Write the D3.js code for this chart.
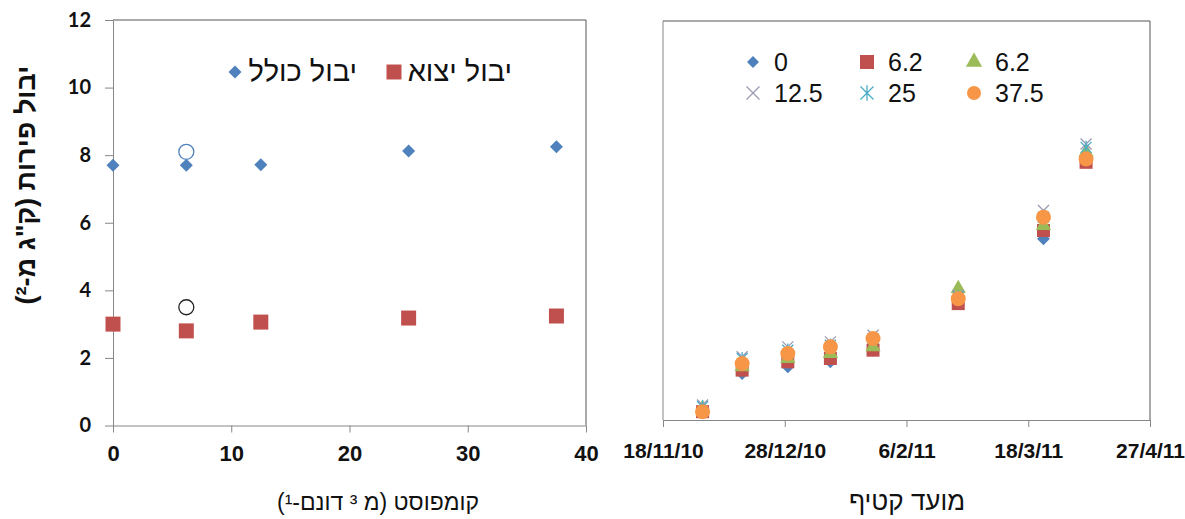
<!DOCTYPE html>
<html>
<head>
<meta charset="utf-8">
<script src="https://cdn.jsdelivr.net/npm/d3@7"></script>
<style>
  html, body { margin: 0; padding: 0; background: #fff; }
  svg { display: block; }
</style>
</head>
<body>
<svg id="chart" width="1185" height="519"></svg>
<script>
// ---------- data: left chart (yield vs compost) ----------
const compostLevels = [0, 6.2, 12.5, 25, 37.5];
const totalYield = [7.7, 7.7, 7.72, 8.12, 8.25];
const exportYield = [3.0, 2.8, 3.06, 3.18, 3.24];
const openCompost = [6.2, 6.2];
const openYield = [8.1, 3.5];
const leftXTicks = [0, 10, 20, 30, 40];
const leftYTicks = [0, 2, 4, 6, 8, 10, 12];
const leftLegend = ["יבול כולל", "יבול יצוא"];

// ---------- data: right chart (yield vs harvest date) ----------
const harvestDates = ["2010-12-01", "2010-12-14", "2010-12-29", "2011-01-12",
                      "2011-01-26", "2011-02-23", "2011-03-23", "2011-04-06"];
const seriesNames = ["0", "6.2", "6.2", "12.5", "25", "37.5"];
const s0    = [0.25, 1.40, 1.60, 1.75, 2.10, 3.50, 5.45, 7.80];
const s62a  = [0.25, 1.50, 1.75, 1.85, 2.10, 3.50, 5.70, 7.75];
const s62b  = [0.35, 1.60, 1.85, 2.00, 2.20, 3.95, 5.85, 8.05];
const s125  = [0.45, 1.90, 2.20, 2.35, 2.55, 3.75, 6.30, 8.30];
const s25   = [0.40, 1.85, 2.10, 2.25, 2.45, 3.70, 6.10, 8.20];
const s375  = [0.25, 1.70, 2.00, 2.20, 2.45, 3.65, 6.10, 7.85];
const dateTicks = ["2010-11-18", "2010-12-28", "2011-02-06", "2011-03-18", "2011-04-27"];

// ---------- titles ----------
const yTitle = "יבול פירות (ק\"ג מ-²)";
const leftXTitle = "קומפוסט (מ ³ דונם-¹)";
const rightXTitle = "מועד קטיף";

// ---------- style ----------
const BLUE = "#4F81BD", RED = "#C0504D", GREEN = "#9BBB59", XCOL = "#9A9AB4",
      TEAL = "#4BACC6", ORANGE = "#F79646";
const AXIS = "#878787", BORDER = "#555";
const HEB = "'Liberation Sans', 'DejaVu Sans', Arial, sans-serif";
const TICKF = "'Liberation Sans', Arial, sans-serif";

const svg = d3.select("#chart");

// ---------- marker helper ----------
function drawMarker(g, type, x, y, color, sz) {
  if (type === "diamond") {
    g.append("path").attr("d", d3.symbol().type(d3.symbolSquare).size(sz * sz / 2)())
      .attr("transform", `translate(${x},${y}) rotate(45)`).attr("fill", color);
  } else if (type === "square") {
    g.append("path").attr("d", d3.symbol().type(d3.symbolSquare).size(sz * sz)())
      .attr("transform", `translate(${x},${y})`).attr("fill", color);
  } else if (type === "triangle") {
    g.append("path").attr("d", d3.symbol().type(d3.symbolTriangle).size(sz * sz * 0.45)())
      .attr("transform", `translate(${x},${y})`).attr("fill", color);
  } else if (type === "circle") {
    g.append("circle").attr("cx", x).attr("cy", y).attr("r", sz / 2).attr("fill", color);
  } else if (type === "x" || type === "star") {
    const h = sz / 2;
    const p = d3.path();
    p.moveTo(x - h, y - h); p.lineTo(x + h, y + h);
    p.moveTo(x - h, y + h); p.lineTo(x + h, y - h);
    if (type === "star") { p.moveTo(x, y - h * 1.2); p.lineTo(x, y + h * 1.2); }
    g.append("path").attr("d", p.toString()).attr("stroke", color)
      .attr("stroke-width", 1.3).attr("fill", "none");
  }
}

// ================= LEFT CHART =================
const L = { left: 113, right: 586, top: 20, bottom: 425.5 };
const xL = d3.scaleLinear().domain([0, 40]).range([L.left, L.right]);
const yL = d3.scaleLinear().domain([0, 12]).range([L.bottom, L.top]);

const gL = svg.append("g");
gL.append("path").attr("d", `M${L.left},${L.top}H${L.right}V${L.bottom}`)
  .attr("fill", "none").attr("stroke", BORDER).attr("stroke-width", 1);

const axLB = gL.append("g").attr("transform", `translate(0,${L.bottom})`)
  .call(d3.axisBottom(xL).tickValues(leftXTicks).tickSize(7).tickSizeOuter(0).tickPadding(13));
axLB.select(".domain").attr("stroke", AXIS);
axLB.selectAll(".tick line").attr("stroke", AXIS);
axLB.selectAll(".tick text").attr("font-family", TICKF).attr("font-weight", "bold")
  .attr("font-size", 22).attr("fill", "#111");

const axLL = gL.append("g").attr("transform", `translate(${L.left},0)`)
  .call(d3.axisLeft(yL).tickValues(leftYTicks).tickSize(8).tickSizeOuter(0).tickPadding(14));
axLL.select(".domain").attr("stroke", AXIS);
axLL.selectAll(".tick line").attr("stroke", AXIS);
axLL.selectAll(".tick text").attr("font-family", "Lato, 'Open Sans', sans-serif")
  .attr("font-weight", "bold").attr("font-size", 20).attr("fill", "#111");

// points
compostLevels.forEach((c, i) => drawMarker(gL, "diamond", xL(c), yL(totalYield[i]), BLUE, 13));
compostLevels.forEach((c, i) => drawMarker(gL, "square", xL(c), yL(exportYield[i]), RED, 15));
gL.append("circle").attr("cx", xL(openCompost[0])).attr("cy", yL(openYield[0])).attr("r", 7.5)
  .attr("fill", "none").attr("stroke", BLUE).attr("stroke-width", 1.3);
gL.append("circle").attr("cx", xL(openCompost[1])).attr("cy", yL(openYield[1])).attr("r", 7.5)
  .attr("fill", "none").attr("stroke", "#222").attr("stroke-width", 1.3);

// legend
drawMarker(gL, "diamond", 235, 72, BLUE, 13);
gL.append("text").attr("x", 357).attr("y", 81).attr("text-anchor", "end")
  .attr("font-family", HEB).attr("font-size", 29).attr("fill", "#111")
  .text(leftLegend[0]);
drawMarker(gL, "square", 394, 72, RED, 15);
gL.append("text").attr("x", 512).attr("y", 81).attr("text-anchor", "end")
  .attr("font-family", HEB).attr("font-size", 29).attr("fill", "#111")
  .text(leftLegend[1]);

// y title
gL.append("text").attr("transform", "translate(35,185) rotate(-90)")
  .attr("text-anchor", "middle").attr("direction", "rtl")
  .attr("font-family", HEB).attr("font-weight", "bold").attr("font-size", 27).attr("fill", "#111")
  .text(yTitle);
// x title
gL.append("text").attr("x", 378).attr("y", 510).attr("text-anchor", "middle")
  .attr("direction", "rtl").attr("font-family", HEB).attr("font-size", 23).attr("fill", "#111")
  .text(leftXTitle);

// ================= RIGHT CHART =================
const R = { left: 663, right: 1150, top: 21, bottom: 420 };
const parse = d3.utcParse("%Y-%m-%d");
const xR = d3.scaleUtc().domain([parse(dateTicks[0]), parse(dateTicks[dateTicks.length - 1])])
  .range([R.left, R.right]);
const yR = d3.scaleLinear().domain([0, 12]).range([R.bottom, R.top]);

const gR = svg.append("g");
gR.append("path").attr("d", `M${R.left},${R.top}H${R.right}V${R.bottom}`)
  .attr("fill", "none").attr("stroke", BORDER).attr("stroke-width", 1);
gR.append("line").attr("x1", R.left).attr("x2", R.left).attr("y1", R.top).attr("y2", R.bottom)
  .attr("stroke", AXIS);

const fmt = d => `${d.getUTCDate()}/${d.getUTCMonth() + 1}/${String(d.getUTCFullYear()).slice(2)}`;
const axRB = gR.append("g").attr("transform", `translate(0,${R.bottom})`)
  .call(d3.axisBottom(xR).tickValues(dateTicks.map(parse)).tickFormat(fmt)
    .tickSize(7).tickSizeOuter(0).tickPadding(16));
axRB.select(".domain").attr("stroke", AXIS);
axRB.selectAll(".tick line").attr("stroke", AXIS);
axRB.selectAll(".tick text").attr("font-family", TICKF).attr("font-weight", "bold")
  .attr("font-size", 21).attr("fill", "#111");

const seriesVals = [s0, s62a, s62b, s125, s25, s375];
const seriesType = ["diamond", "square", "triangle", "x", "star", "circle"];
const seriesCol = [BLUE, RED, GREEN, XCOL, TEAL, ORANGE];
const seriesSize = [13, 13, 15, 11, 11, 15];
seriesVals.forEach((vals, si) => {
  vals.forEach((v, i) => drawMarker(gR, seriesType[si], xR(parse(harvestDates[i])), yR(v),
    seriesCol[si], seriesSize[si]));
});

// legend
const legX = [753, 867, 974];
const legY = [62, 93];
seriesNames.forEach((n, i) => {
  const cx = legX[i % 3], cy = legY[Math.floor(i / 3)];
  drawMarker(gR, seriesType[i], cx, cy, seriesCol[i], [12, 14, 16, 13, 13, 14][i]);
  gR.append("text").attr("x", cx + 21).attr("y", cy + 9).attr("font-family", TICKF)
    .attr("font-size", 25).attr("fill", "#111").text(n);
});

gR.append("text").attr("x", 907).attr("y", 510).attr("text-anchor", "middle")
  .attr("direction", "rtl").attr("font-family", HEB).attr("font-size", 26).attr("fill", "#111")
  .text(rightXTitle);
</script>
</body>
</html>
